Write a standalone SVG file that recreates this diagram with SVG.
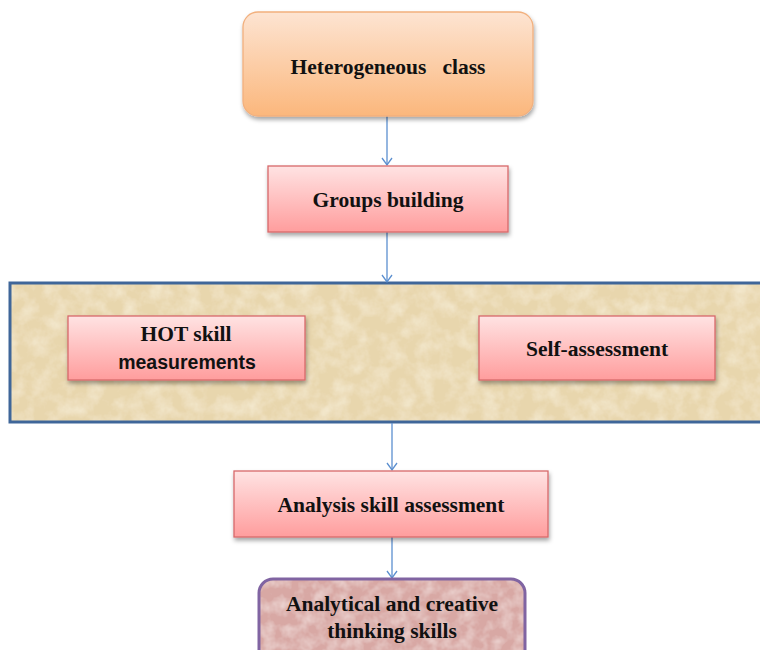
<svg xmlns="http://www.w3.org/2000/svg" width="760" height="650" viewBox="0 0 760 650">
<defs>
<linearGradient id="gOrange" x1="0" y1="0" x2="0" y2="1">
<stop offset="0" stop-color="#fde4d2"/>
<stop offset="1" stop-color="#fbb77c"/>
</linearGradient>
<linearGradient id="gPink" x1="0" y1="0" x2="0" y2="1">
<stop offset="0" stop-color="#ffe3e3"/>
<stop offset="1" stop-color="#ff9d9d"/>
</linearGradient>
<filter id="shadow" x="-10%" y="-20%" width="120%" height="150%">
<feDropShadow dx="1" dy="3" stdDeviation="2" flood-color="#000" flood-opacity="0.35"/>
</filter>
<filter id="parch" x="0" y="0" width="100%" height="100%">
<feTurbulence type="fractalNoise" baseFrequency="0.06" numOctaves="4" seed="3" result="n"/>
<feColorMatrix in="n" type="matrix" values="0 0 0 0 0.95  0 0 0 0 0.88  0 0 0 0 0.72  0 0 0 1.2 -0.45" result="c"/>
<feFlood flood-color="#e8d6ad" result="base"/>
<feComposite in="c" in2="base" operator="over" result="m"/>
<feComposite in="m" in2="SourceGraphic" operator="in"/>
</filter>
<filter id="rose" x="0" y="0" width="100%" height="100%">
<feTurbulence type="fractalNoise" baseFrequency="0.08" numOctaves="3" seed="7" result="n"/>
<feColorMatrix in="n" type="matrix" values="0 0 0 0 0.9  0 0 0 0 0.76  0 0 0 0 0.74  0 0 0 1.2 -0.45" result="c"/>
<feFlood flood-color="#d8a8a4" result="base"/>
<feComposite in="c" in2="base" operator="over" result="m"/>
<feComposite in="m" in2="SourceGraphic" operator="in"/>
</filter>
<marker id="arr" markerWidth="12" markerHeight="12" refX="10" refY="6" orient="auto" markerUnits="userSpaceOnUse" viewBox="0 0 12 12">
<path d="M3,1 L10,6 L3,11" fill="none" stroke="#5b8fcf" stroke-width="1.3"/>
</marker>
</defs>
<style>
.serif{font-family:"Liberation Serif","Times New Roman",serif;font-weight:bold;font-size:21.5px;fill:#111;text-anchor:middle}
.sans{font-family:"Liberation Sans",Arial,sans-serif;font-weight:bold;font-size:19.5px;fill:#111;text-anchor:middle}
.pink{fill:url(#gPink);stroke:#d7696a;stroke-width:1.3}
.conn{stroke:#5b8fcf;stroke-width:1.3;fill:none;marker-end:url(#arr)}
</style>
<rect width="760" height="650" fill="#fff"/>

<g id="container">
<rect x="10" y="283" width="760" height="139" fill="#e8d6ad" filter="url(#parch)"/>
<rect x="10" y="283" width="760" height="139" fill="none" stroke="#3f6699" stroke-width="3"/>
</g>

<g id="connectors">
<line class="conn" x1="387" y1="116" x2="387" y2="165"/>
<line class="conn" x1="387" y1="232" x2="387" y2="282"/>
<line class="conn" x1="392" y1="423" x2="392" y2="470"/>
<line class="conn" x1="392" y1="537" x2="392" y2="578"/>
</g>

<g id="heterogeneous">
<rect x="243" y="12" width="290" height="104" rx="15" fill="url(#gOrange)" stroke="#f2b07e" stroke-width="1.3" filter="url(#shadow)"/>
<text class="serif" x="388" y="74" xml:space="preserve" style="white-space:pre">Heterogeneous   class</text>
</g>

<g id="groups">
<rect class="pink" x="268" y="166" width="240" height="66" filter="url(#shadow)"/>
<text class="serif" x="388" y="207">Groups building</text>
</g>

<g id="hot">
<rect class="pink" x="68" y="316" width="237" height="64" filter="url(#shadow)"/>
<text class="serif" x="186" y="341">HOT skill</text>
<text class="sans" x="187" y="369">measurements</text>
</g>

<g id="self">
<rect class="pink" x="479" y="316" width="236" height="64" filter="url(#shadow)"/>
<text class="serif" x="597" y="356">Self-assessment</text>
</g>

<g id="analysis">
<rect class="pink" x="234" y="471" width="314" height="66" filter="url(#shadow)"/>
<text class="serif" x="391" y="512">Analysis skill assessment</text>
</g>

<g id="analytical">
<rect x="259" y="579" width="266" height="90" rx="14" fill="#d8a8a4" filter="url(#rose)"/>
<rect x="259" y="579" width="266" height="90" rx="14" fill="none" stroke="#8064a2" stroke-width="3"/>
<text class="serif" x="392" y="611">Analytical and creative</text>
<text class="serif" x="392" y="638">thinking skills</text>
</g>
</svg>
